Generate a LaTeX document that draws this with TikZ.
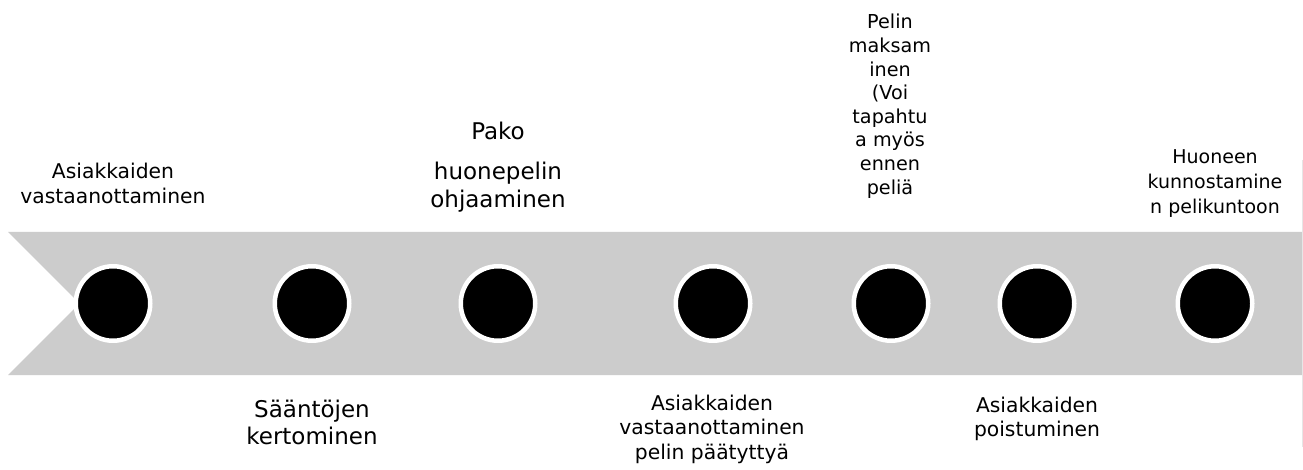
\documentclass[tikz,border=0pt]{standalone}
\usepackage{fontspec}
\setmainfont{DejaVu Sans}
\definecolor{band}{HTML}{CCCCCC}
\definecolor{edgeline}{HTML}{E6E6E6}
\newcommand\stackc[1]{\begin{tabular}[t]{@{}c@{}}#1\end{tabular}}
\tikzset{
  dot/.style={circle, fill=black, draw=white, line width=4.5pt,
              minimum size=74.5pt, inner sep=0pt},
  lbl/.style={anchor=base, inner sep=0pt, text=black},
  fsmall/.style={font=\fontsize{19.2}{23.6}\selectfont},
  fmid/.style={font=\fontsize{20.3}{24.8}\selectfont},
  flarge/.style={font=\fontsize{23}{27.5}\selectfont},
}
\begin{document}
\begin{tikzpicture}[x=1pt, y=-1pt]
  \useasboundingbox (0,0) rectangle (1303,470);
  \fill[white] (0,0) rectangle (1303,470);

  % timeline band with notched left end
  \fill[band] (8,232) -- (1302,232) -- (1302,375) -- (8,375)
              -- (79.5,303.5) -- cycle;
  \draw[edgeline, line width=1pt] (1302.3,160) -- (1302.3,447);

  % milestones
  \node[dot] (d1) at (113,303.5) {};
  \node[dot] (d2) at (312,303.5) {};
  \node[dot] (d3) at (498,303.5) {};
  \node[dot] (d4) at (713,303.5) {};
  \node[dot] (d5) at (891,303.5) {};
  \node[dot] (d6) at (1037,303.5) {};
  \node[dot] (d7) at (1215,303.5) {};

  % labels above and below the band
  \node[lbl, fmid] (t1) at (113,179)
    {\stackc{Asiakkaiden\\vastaanottaminen}};
  \node[lbl, flarge] (t2) at (312,417)
    {\stackc{Sääntöjen\\kertominen}};
  \node[lbl, flarge] (t3) at (498,140)
    {\stackc{Pako\\[12.5pt]huonepelin\\ohjaaminen}};
  \node[lbl, fmid] (t4) at (712,410)
    {\stackc{Asiakkaiden\\vastaanottaminen\\pelin päätyttyä}};
  \node[lbl, fsmall] (t5) at (890,29)
    {\stackc{Pelin\\maksam\\inen\\(Voi\\tapahtu\\a myös\\ennen\\peliä}};
  \node[lbl, fmid] (t6) at (1037,412)
    {\stackc{Asiakkaiden\\poistuminen}};
  \node[lbl, fsmall, font=\fontsize{19}{25}\selectfont] (t7) at (1215,164)
    {\stackc{Huoneen\\kunnostamine\\n pelikuntoon}};
\end{tikzpicture}
\end{document}
